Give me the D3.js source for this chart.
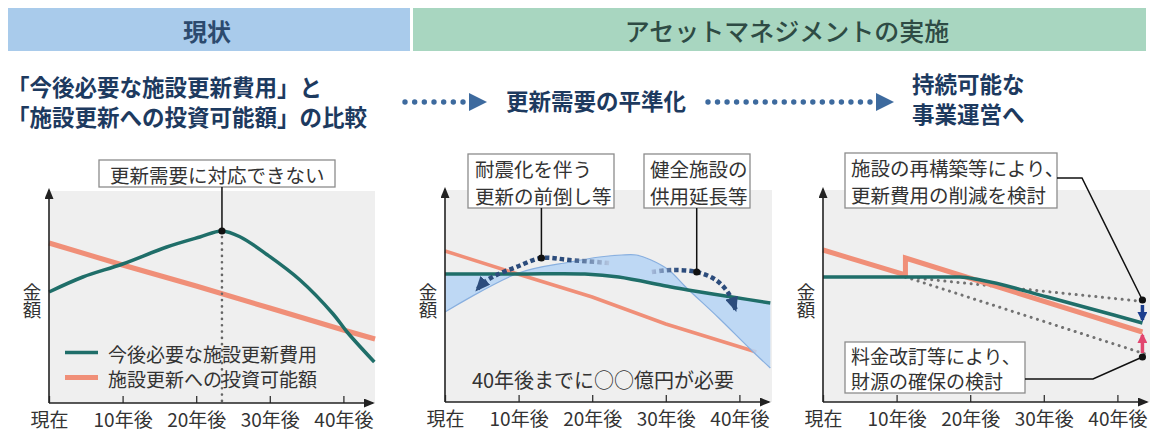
<!DOCTYPE html>
<html><head><meta charset="utf-8">
<script src="https://cdn.jsdelivr.net/npm/d3@7"></script>
<style>
body{margin:0;background:#fff;}
svg{display:block;font-family:"Noto Sans CJK JP","Noto Sans",sans-serif;}
</style></head><body>
<svg id="c" width="1150" height="432"></svg>
<script>
// ---------- data ----------
const xTicks = [0, 10, 20, 30, 40];
const xTickLabels = ["現在", "10年後", "20年後", "30年後", "40年後"];
const yLabel = "金額";
const seriesNames = ["今後必要な施設更新費用", "施設更新への投資可能額"];
const headerTitles = ["現状", "アセットマネジメントの実施"];
const stepTitles = [["「今後必要な施設更新費用」と", "「施設更新への投資可能額」の比較"], ["更新需要の平準化"], ["持続可能な", "事業運営へ"]];

// panel 1 : current state
const needYearsL = [0, 4.6, 10, 16, 20.5, 23.5, 26, 29.7, 34.1, 38.6, 40.5, 44.2];
const needValsL  = [111, 126, 139, 156, 166, 172, 166, 148, 123, 89, 71, 41];
const investYearsL = [0, 10, 20, 30, 40, 44.3];
const investValsL  = [160, 138, 117, 95, 73, 64];
const peakYearL = 23.5, peakValL = 172;
const calloutL = ["更新需要に対応できない"];

// panel 2 : levelling
const levelYearsM = [0, 10, 19, 23.6, 30, 33, 39, 44.2];
const levelValsM  = [128, 128, 128, 125, 116, 112, 105, 99];
const origYearsM  = [0, 10, 17, 21, 24, 26, 28, 30.4, 32.7, 37.2, 41.6, 44.2];
const origValsM   = [90, 129, 140, 145, 147, 147, 142, 132, 115, 84, 52, 34];
const investYearsM = [0, 9, 20, 30, 42.3];
const investValsM  = [151, 130, 105, 78, 50];
const arcAYears = [22.3, 16.9, 13.1, 9.7, 7.0, 5.4, 4.3];
const arcAVals  = [139, 142, 144, 135, 127, 120, 112];
const arcBYears = [28.1, 30.8, 34.2, 36.8, 38.5, 39.5];
const arcBVals  = [130, 132, 130, 122, 109, 92];
const calloutM1 = ["耐震化を伴う", "更新の前倒し等"];
const calloutM2 = ["健全施設の", "供用延長等"];
const noteM = "40年後までに○○億円が必要";

// panel 3 : sustainable operation
const needYearsR = [0, 10, 18.6, 21.4, 30.5, 39.5, 43.4];
const needValsR  = [125, 125, 125, 122, 105, 87, 79];
const investYearsR = [0, 11.2, 11.2, 43.4];
const investValsR  = [152, 127, 144, 70];
const guideYearsR = [11.2, 44.2];
const guideUpperR = [125, 100];
const guideLowerR = [125, 47];
const endYearR = 43.4;
const dotValsR = [102, 45];
const cutArrowR = [97, 82];
const raiseArrowR = [49, 67];
const calloutR1 = ["施設の再構築等により、", "更新費用の削減を検討"];
const calloutR2 = ["料金改訂等により、", "財源の確保の検討"];

// ---------- drawing ----------
const svg = d3.select("#c");
const TEAL = "#1f6e69", SALMON = "#f08f78", NAVY = "#2c4c7c";
const defs = svg.append("defs");
function marker(id, color, w, h) {
  defs.append("marker").attr("id", id).attr("viewBox", `0 0 ${w} ${h}`)
    .attr("refX", w - 2).attr("refY", h / 2).attr("markerWidth", w).attr("markerHeight", h)
    .attr("markerUnits", "userSpaceOnUse").attr("orient", "auto")
    .append("path").attr("d", `M0,0L${w},${h/2}L0,${h}Z`).attr("fill", color);
}
marker("axArrow", "#222", 11, 9);
marker("navyArrow", NAVY, 15, 13);
marker("blueArrow", "#1c3e8e", 10, 10);
marker("redArrow", "#e2466f", 10, 10);

// multi-line text as one element
function block(parent, x, yFirst, lh, lines, size, weight, fill) {
  const t = parent.append("text").attr("x", x).attr("y", yFirst).attr("font-size", size)
    .attr("font-weight", weight).attr("fill", fill).attr("dominant-baseline", "central");
  lines.forEach((s, i) => t.append("tspan").attr("x", x).attr("y", yFirst + i * lh).text(s));
  return t;
}

// header bars
svg.append("rect").attr("x", 8).attr("y", 8).attr("width", 402).attr("height", 43).attr("fill", "#a9cbeb");
svg.append("rect").attr("x", 413).attr("y", 8).attr("width", 733).attr("height", 43).attr("fill", "#a8d6c0");
svg.append("text").attr("x", 207).attr("y", 30).attr("text-anchor", "middle").attr("dominant-baseline", "central")
  .attr("font-size", 24).attr("font-weight", 700).attr("fill", "#2c4a6e").text(headerTitles[0]);
svg.append("text").attr("x", 787).attr("y", 30).attr("text-anchor", "middle").attr("dominant-baseline", "central")
  .attr("font-size", 25).attr("font-weight", 500).attr("fill", "#2e4b44").text(headerTitles[1]);

// step titles
const stepColor = "#1d3a5f";
block(svg, 7, 85.5, 30, stepTitles[0], 22.5, 700, stepColor);
block(svg, 506, 100, 30, stepTitles[1], 22.5, 700, stepColor);
block(svg, 912, 82.5, 30, stepTitles[2], 22.5, 700, stepColor);
function dotArrow(xs, xe, y) {
  const n = Math.round((xe - xs) / 9.7);
  svg.append("g").selectAll("circle").data(d3.range(n + 1)).join("circle")
    .attr("cx", d => xs + d * (xe - xs) / n).attr("cy", y).attr("r", 2.7).attr("fill", "#3d6a9e");
  svg.append("path").attr("d", `M${xe + 6},${y - 9}L${xe + 24},${y}L${xe + 6},${y + 9}Z`).attr("fill", "#3d6a9e");
}
dotArrow(405, 463, 102);
dotArrow(708, 870, 102);

// panels
const panels = [{x0: 49, y0: 403, right: 375}, {x0: 445, y0: 402, right: 772}, {x0: 823, y0: 402, right: 1150}];
function setup(p) {
  const x = d3.scaleLinear().domain([0, 44]).range([p.x0, p.x0 + 7.36 * 44]);
  const y = d3.scaleLinear().domain([0, 215]).range([p.y0, p.y0 - 215]);
  const g = svg.append("g");
  g.append("rect").attr("x", p.x0).attr("y", y(212)).attr("width", p.right - p.x0).attr("height", p.y0 - y(212)).attr("fill", "#efefef");
  const plot = g.append("g");
  const ax = g.append("g").attr("transform", `translate(0,${p.y0})`)
    .call(d3.axisBottom(x).tickValues(xTicks).tickSize(-7).tickPadding(11).tickFormat((d, i) => xTickLabels[i]));
  ax.select(".domain").remove();
  ax.selectAll(".tick line").attr("stroke", "#333").attr("stroke-width", 1.3);
  ax.selectAll(".tick text").attr("font-size", 19).attr("fill", "#333").attr("font-family", '"Noto Sans CJK JP",sans-serif');
  g.append("line").attr("x1", p.x0).attr("x2", x(44)).attr("y1", p.y0).attr("y2", p.y0)
    .attr("stroke", "#222").attr("stroke-width", 1.6).attr("marker-end", "url(#axArrow)");
  g.append("line").attr("x1", p.x0).attr("x2", p.x0).attr("y1", p.y0).attr("y2", y(213))
    .attr("stroke", "#222").attr("stroke-width", 1.6).attr("marker-end", "url(#axArrow)");
  g.append("text").attr("x", p.x0 - 17).attr("y", 301).attr("text-anchor", "middle")
    .attr("writing-mode", "vertical-rl").style("writing-mode", "vertical-rl")
    .attr("font-size", 18.5).attr("fill", "#333").text(yLabel);
  return {x, y, g: plot};
}
const zipPts = (xs, vs) => xs.map((t, i) => [t, vs[i]]);
function callout(g, x, y, w, h, lines, tx, lh, fs) {
  g.append("rect").attr("x", x).attr("y", y).attr("width", w).attr("height", h).attr("fill", "#fff").attr("stroke", "#8c8c8c").attr("stroke-width", 1.3);
  block(g, tx, y + h / 2 - (lines.length - 1) / 2 * lh, lh, lines, fs || 19.5, 400, "#333");
}

// ---- panel 1
{
  const {x, y, g} = setup(panels[0]);
  const line = d3.line().x(d => x(d[0])).y(d => y(d[1]));
  g.append("path").attr("d", line(zipPts(investYearsL, investValsL))).attr("fill", "none").attr("stroke", SALMON).attr("stroke-width", 5);
  g.append("path").attr("d", line.curve(d3.curveCatmullRom)(zipPts(needYearsL, needValsL))).attr("fill", "none").attr("stroke", TEAL).attr("stroke-width", 3.5);
  g.append("line").attr("x1", x(peakYearL)).attr("x2", x(peakYearL)).attr("y1", y(peakValL) + 6).attr("y2", y(0))
    .attr("stroke", "#666").attr("stroke-width", 2.6).attr("stroke-dasharray", "0.1 6.2").attr("stroke-linecap", "round");
  // legend
  [TEAL, SALMON].forEach((c, i) => g.append("line").attr("x1", 65).attr("x2", 98).attr("y1", 352.5 + i * 25).attr("y2", 352.5 + i * 25)
    .attr("stroke", c).attr("stroke-width", i ? 5 : 3.5));
  block(g, 108, 352.5, 25, seriesNames, 19, 400, "#333");
  callout(svg, 99, 160, 236, 27, calloutL, 110, 0);
  svg.append("line").attr("x1", x(peakYearL)).attr("x2", x(peakYearL)).attr("y1", 187).attr("y2", y(peakValL)).attr("stroke", "#111").attr("stroke-width", 1.5);
  svg.append("circle").attr("cx", x(peakYearL)).attr("cy", y(peakValL)).attr("r", 3.6).attr("fill", "#111");
}

// ---- panel 2
{
  const {x, y, g} = setup(panels[1]);
  const curved = d3.line().x(d => x(d[0])).y(d => y(d[1])).curve(d3.curveCatmullRom);
  const origPath = curved(zipPts(origYearsM, origValsM));
  const levelRev = curved(zipPts(levelYearsM, levelValsM).reverse());
  g.append("path").attr("d", d3.line().x(d => x(d[0])).y(d => y(d[1]))(zipPts(investYearsM, investValsM)))
    .attr("fill", "none").attr("stroke", SALMON).attr("stroke-width", 3.5);
  g.append("path").attr("d", origPath + "L" + levelRev.slice(1) + "Z").attr("fill", "#b5d3f5").attr("fill-opacity", 0.85);
  g.append("path").attr("d", origPath).attr("fill", "none").attr("stroke", "#88afdf").attr("stroke-width", 1.2);
  g.append("path").attr("d", curved(zipPts(levelYearsM, levelValsM))).attr("fill", "none").attr("stroke", TEAL).attr("stroke-width", 3.5);
  // arcs
  const gA = defs.append("linearGradient").attr("id", "gA").attr("gradientUnits", "userSpaceOnUse")
    .attr("x1", x(4)).attr("x2", x(22.3)).attr("y1", 0).attr("y2", 0);
  gA.append("stop").attr("offset", 0.7).attr("stop-color", NAVY);
  gA.append("stop").attr("offset", 1).attr("stop-color", "#b4c6e0");
  const gB = defs.append("linearGradient").attr("id", "gB").attr("gradientUnits", "userSpaceOnUse")
    .attr("x1", x(28.1)).attr("x2", x(40)).attr("y1", 0).attr("y2", 0);
  gB.append("stop").attr("offset", 0).attr("stop-color", "#a8bcdc");
  gB.append("stop").attr("offset", 0.3).attr("stop-color", NAVY);
  const arc = d3.line().x(d => x(d[0])).y(d => y(d[1])).curve(d3.curveCatmullRom);
  g.append("path").attr("d", arc(zipPts(arcAYears, arcAVals))).attr("fill", "none").attr("stroke", "url(#gA)")
    .attr("stroke-width", 4.5).attr("stroke-dasharray", "4.5 3").attr("marker-end", "url(#navyArrow)");
  g.append("path").attr("d", arc(zipPts(arcBYears, arcBVals))).attr("fill", "none").attr("stroke", "url(#gB)")
    .attr("stroke-width", 4.5).attr("stroke-dasharray", "4.5 3").attr("marker-end", "url(#navyArrow)");
  g.append("text").attr("x", 603).attr("y", 379).attr("text-anchor", "middle").attr("dominant-baseline", "central")
    .attr("font-size", 20).attr("fill", "#333").text(noteM);
  callout(svg, 468, 154, 146, 54, calloutM1, 475, 27);
  callout(svg, 644, 154, 106, 54, calloutM2, 650, 27);
  [[arcAYears[2], arcAVals[2]], [arcBYears[2], arcBVals[2]]].forEach(d => {
    svg.append("line").attr("x1", x(d[0])).attr("x2", x(d[0])).attr("y1", 208).attr("y2", y(d[1])).attr("stroke", "#111").attr("stroke-width", 1.5);
    svg.append("circle").attr("cx", x(d[0])).attr("cy", y(d[1])).attr("r", 3.6).attr("fill", "#111");
  });
}

// ---- panel 3
{
  const {x, y, g} = setup(panels[2]);
  const line = d3.line().x(d => x(d[0])).y(d => y(d[1]));
  [guideUpperR, guideLowerR].forEach(v => g.append("path").attr("d", line(zipPts(guideYearsR, v))).attr("fill", "none")
    .attr("stroke", "#727272").attr("stroke-width", 3).attr("stroke-dasharray", "0.1 6.5").attr("stroke-linecap", "round"));
  g.append("path").attr("d", line(zipPts(investYearsR, investValsR))).attr("fill", "none").attr("stroke", SALMON).attr("stroke-width", 5);
  g.append("path").attr("d", line.curve(d3.curveMonotoneX)(zipPts(needYearsR, needValsR))).attr("fill", "none").attr("stroke", TEAL).attr("stroke-width", 3.5);
  g.append("line").attr("x1", x(endYearR)).attr("x2", x(endYearR)).attr("y1", y(cutArrowR[0])).attr("y2", y(cutArrowR[1]))
    .attr("stroke", "#1c3e8e").attr("stroke-width", 3.5).attr("marker-end", "url(#blueArrow)");
  g.append("line").attr("x1", x(endYearR)).attr("x2", x(endYearR)).attr("y1", y(raiseArrowR[0])).attr("y2", y(raiseArrowR[1]))
    .attr("stroke", "#e2466f").attr("stroke-width", 3.5).attr("marker-end", "url(#redArrow)");
  callout(svg, 845, 153, 212, 55, calloutR1, 851, 27);
  callout(svg, 845, 342, 180, 51, calloutR2, 851, 25.5, 19);
  svg.append("path").attr("d", `M1057,178L1082,178L${x(endYearR)},${y(dotValsR[0])}`).attr("fill", "none").attr("stroke", "#111").attr("stroke-width", 1.5);
  svg.append("path").attr("d", `M1025,379L1093,379L${x(endYearR)},${y(dotValsR[1])}`).attr("fill", "none").attr("stroke", "#111").attr("stroke-width", 1.5);
  dotValsR.forEach(v => svg.append("circle").attr("cx", x(endYearR)).attr("cy", y(v)).attr("r", 3.6).attr("fill", "#111"));
}
</script></body></html>
